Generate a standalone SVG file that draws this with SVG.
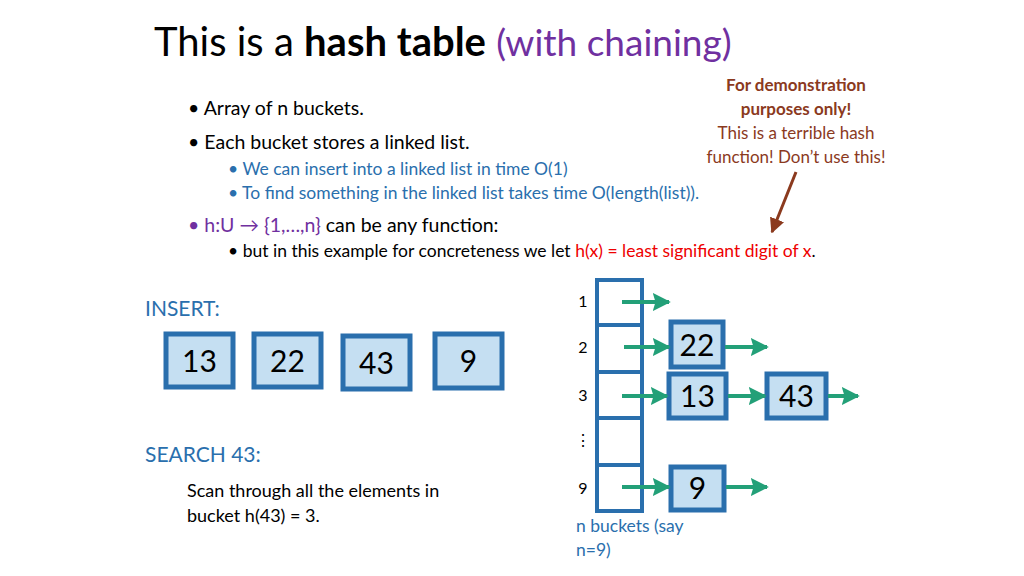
<svg xmlns="http://www.w3.org/2000/svg" width="1024" height="576" viewBox="0 0 1024 576">
<defs>
<marker id="ah" viewBox="0 0 10 10" refX="9" refY="5" markerWidth="4.5" markerHeight="4.5" orient="auto" markerUnits="strokeWidth"><path d="M0,0 L10,5 L0,10 L1.5,5 z" fill="#23a078"/></marker>
<marker id="rh" viewBox="0 0 10 10" refX="9" refY="5" markerWidth="5" markerHeight="5" orient="auto" markerUnits="strokeWidth"><path d="M0,0 L10,5 L0,10 z" fill="#8b3a1e"/></marker>
</defs>
<style>
text{font-family:Lato,"Open Sans","Liberation Sans",sans-serif}
.box{fill:#c5dff2;stroke:#2a6fad;stroke-width:5}
.cell{fill:#fff;stroke:#2a6fad;stroke-width:4}
.num{font-size:30px;fill:#000;text-anchor:middle}
.b{font-size:19.5px;fill:#000}
.blue{fill:#2a6fad}
.purp{fill:#7030a0}
.arr{stroke:#23a078;stroke-width:4;fill:none;marker-end:url(#ah)}
.lbl{font-size:16px;fill:#000;text-anchor:middle}
</style>
<rect width="1024" height="576" fill="#fff"/>
<text x="154" y="56" font-size="40" fill="#000">This is a <tspan font-weight="bold">hash table</tspan> <tspan class="purp" font-size="37">(with chaining)</tspan></text>
<text x="796" y="91" font-size="17" font-weight="bold" fill="#8b3a1e" text-anchor="middle">For demonstration</text>
<text x="796" y="115" font-size="17" font-weight="bold" fill="#8b3a1e" text-anchor="middle">purposes only!</text>
<text x="796" y="139" font-size="17" fill="#8b3a1e" text-anchor="middle">This is a terrible hash</text>
<text x="796" y="163" font-size="17" fill="#8b3a1e" text-anchor="middle">function!  Don’t use this!</text>
<line x1="796" y1="172" x2="772" y2="232" stroke="#8b3a1e" stroke-width="3" marker-end="url(#rh)"/>
<text x="188" y="115" class="b">•  Array of n buckets.</text>
<text x="188" y="149" class="b">•  Each bucket stores a linked list.</text>
<text x="228" y="175" font-size="17.5" class="blue">•  We can insert into a linked list in time O(1)</text>
<text x="228" y="199" font-size="17.5" class="blue">•  To find something in the linked list takes time O(length(list)).</text>
<text x="188" y="232" font-size="19.5" class="purp">•  h:U → {1,…,n} <tspan fill="#000">can be any function:</tspan></text>
<text x="228" y="257" font-size="17.5" fill="#000">•  but in this example for concreteness we let <tspan fill="#e00">h(x) = least significant digit of x</tspan>.</text>
<text x="145" y="316" font-size="21" class="blue">INSERT:</text>
<text x="145" y="462" font-size="21" class="blue">SEARCH 43:</text>
<text x="187" y="497" font-size="18" fill="#000">Scan through all the elements in</text>
<text x="187" y="522" font-size="18" fill="#000">bucket h(43) = 3.</text>
<text x="576" y="532" font-size="17.5" class="blue">n buckets (say</text>
<text x="576" y="556" font-size="17.5" class="blue">n=9)</text>
<g id="insert13"><rect class="box" x="166" y="334" width="67" height="53"/><text class="num" x="199.5" y="372">13</text></g>
<g id="insert22"><rect class="box" x="254" y="334" width="67" height="53"/><text class="num" x="287.5" y="372">22</text></g>
<g id="insert43"><rect class="box" x="343" y="336" width="67" height="53"/><text class="num" x="376.5" y="374">43</text></g>
<g id="insert9"><rect class="box" x="435" y="334" width="67" height="54"/><text class="num" x="468.5" y="372">9</text></g>
<g id="buckets">
<rect class="cell" x="597" y="280" width="45" height="45"/>
<rect class="cell" x="597" y="325" width="45" height="47"/>
<rect class="cell" x="597" y="372" width="45" height="46"/>
<rect class="cell" x="597" y="418" width="45" height="47"/>
<rect class="cell" x="597" y="465" width="45" height="46"/>
<text class="lbl" x="583" y="307">1</text>
<text class="lbl" x="583" y="353">2</text>
<text class="lbl" x="583" y="401">3</text>
<text class="lbl" x="583" y="446">⋮</text>
<text class="lbl" x="583" y="494">9</text>
</g>
<g id="node22"><rect class="box" x="671" y="322" width="52" height="45"/><text class="num" x="697" y="356">22</text></g>
<g id="node13"><rect class="box" x="669" y="374" width="57" height="44"/><text class="num" x="697.5" y="407">13</text></g>
<g id="node43"><rect class="box" x="767" y="374" width="59" height="44"/><text class="num" x="796.5" y="407">43</text></g>
<g id="node9"><rect class="box" x="671" y="467" width="53" height="43"/><text class="num" x="697.5" y="499">9</text></g>
<g id="connectors">
<line class="arr" x1="622" y1="302" x2="669" y2="302"/>
<line class="arr" x1="624" y1="347" x2="669" y2="347"/>
<line class="arr" x1="725" y1="347" x2="767" y2="347"/>
<line class="arr" x1="622" y1="396" x2="667" y2="396"/>
<line class="arr" x1="728" y1="396" x2="765" y2="396"/>
<line class="arr" x1="828" y1="396" x2="858" y2="396"/>
<line class="arr" x1="622" y1="487" x2="669" y2="487"/>
<line class="arr" x1="726" y1="487" x2="767" y2="487"/>
</g>
</svg>
